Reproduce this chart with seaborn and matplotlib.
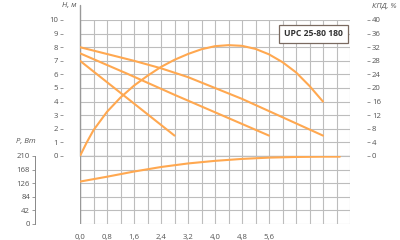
import numpy as np
import pandas as pd
import matplotlib
matplotlib.use("Agg")
import matplotlib.pyplot as plt
import seaborn as sns

# ---- data ----
flow_a = [0.0, 0.8, 1.6, 2.4, 3.2, 4.0, 4.8, 5.6, 6.4, 7.2]
head_a = [8.0, 7.5, 7.0, 6.45, 5.8, 5.0, 4.2, 3.3, 2.4, 1.5]

flow_b = [0.0, 1.4, 2.8, 4.2, 5.6]
head_b = [7.55, 6.05, 4.5, 3.0, 1.5]

flow_c = [0.0, 1.4, 2.8]
head_c = [7.0, 4.25, 1.5]

flow_eff = [0.0, 0.2, 0.4, 0.8, 1.2, 1.6, 2.0, 2.4, 2.8, 3.2, 3.6, 4.0, 4.4,
            4.8, 5.2, 5.6, 6.0, 6.4, 6.8, 7.2]
eff_pct = [0.0, 4.0, 7.6, 13.0, 17.2, 20.7, 23.6, 26.2, 28.3, 30.0, 31.4, 32.3,
           32.6, 32.4, 31.5, 29.9, 27.6, 24.6, 20.6, 16.0]

flow_pow = [0.0, 0.8, 1.6, 2.4, 3.2, 4.0, 4.8, 5.6, 6.4, 7.2, 7.7]
power_w = [131, 146, 162, 176, 187, 195, 201, 205, 207, 208, 208]

x_ticks = [0.0, 0.4, 0.8, 1.2, 1.6, 2.0, 2.4, 2.8, 3.2, 3.6, 4.0, 4.4, 4.8,
           5.2, 5.6, 6.0, 6.4, 6.8, 7.2, 7.6, 8.0]
x_labels = ["0,0", "", "0,8", "", "1,6", "", "2,4", "", "3,2", "", "4,0", "",
            "4,8", "", "5,6", "", "", "", "", "", ""]
h_ticks = [0, 1, 2, 3, 4, 5, 6, 7, 8, 9, 10]
eff_ticks = [0, 4, 8, 12, 16, 20, 24, 28, 32, 36, 40]
p_ticks = [0, 42, 84, 126, 168, 210]
title = "UPC 25-80 180"

# ---- style ----
sns.set_theme(style="white")
plt.rcParams["font.family"] = ["Open Sans", "DejaVu Sans"]

ORANGE = "#FFA850"
GRID = "#bdbdbd"
TXT = "#555555"
FS = 5.6
PT = 72 / 100  # points per pixel

W, H = 400, 240
fig = plt.figure(figsize=(4, 2.4), dpi=100)


def fx(px):
    return px / W


def fy(py):
    return 1 - py / H


ax = fig.add_axes([fx(80), fy(156), fx(350) - fx(80), fy(20) - fy(156)])
axp = fig.add_axes([fx(80), fy(224), fx(350) - fx(80), fy(156) - fy(224)], sharex=ax)
axr = ax.twinx()

for a in (ax, axp, axr):
    a.set_facecolor("none")
    for s in a.spines.values():
        s.set_visible(False)

# grid
for a in (ax, axp):
    a.set_xticks(x_ticks)
    a.grid(True, color=GRID, linewidth=0.8)
    a.set_axisbelow(True)
ax.set_xlim(0, 8.0)
ax.set_ylim(0, 10)
ax.set_yticks(h_ticks)
axp.set_ylim(0, 210)
axp.set_yticks(p_ticks)
axr.set_ylim(0, 40)
axr.set_yticks(eff_ticks)
axr.grid(False)

tick_kw = dict(length=3 * PT, width=0.6, color="#888888", labelsize=FS,
               labelcolor=TXT, pad=2 * PT)

# upper-left ticks: offset, invisible spine
ax.spines["left"].set_position(("outward", 17 * PT))
ax.tick_params(axis="y", left=True, **tick_kw)
ax.tick_params(axis="x", bottom=False, labelbottom=False)

axr.spines["right"].set_position(("outward", 17 * PT))
axr.tick_params(axis="y", right=True, **tick_kw)

axp.spines["left"].set_visible(True)
axp.spines["left"].set_position(("outward", 45 * PT))
axp.spines["left"].set_color("#888888")
axp.spines["left"].set_linewidth(0.7)
axp.tick_params(axis="y", left=True, **tick_kw)
axp.set_xticklabels(x_labels)
axp.tick_params(axis="x", bottom=False, labelsize=FS, labelcolor=TXT, pad=2 * PT)

# main vertical axis line at x = 0
ax.axvline(0, ymin=0, ymax=(156 - 5) / 136, color="#999999", lw=1.0, clip_on=False, zorder=1)
axp.axvline(0, color="#999999", lw=1.0, zorder=1)
ax.axhline(0, color="#999999", lw=0.9, zorder=1)

# curves
lw = 1.5
sns.lineplot(x=flow_a, y=head_a, ax=ax, color=ORANGE, lw=lw, estimator=None)
sns.lineplot(x=flow_b, y=head_b, ax=ax, color=ORANGE, lw=lw, estimator=None)
sns.lineplot(x=flow_c, y=head_c, ax=ax, color=ORANGE, lw=lw, estimator=None)
sns.lineplot(x=flow_eff, y=eff_pct, ax=axr, color=ORANGE, lw=lw, estimator=None)
sns.lineplot(x=flow_pow, y=power_w, ax=axp, color=ORANGE, lw=lw, estimator=None)
for a in (ax, axp, axr):
    a.set_xlabel("")
    a.set_ylabel("")
ax.set_xlim(0, 8.0)

# title box
ax.text((313.5 - 80) / 270, (156 - 34) / 136, title, transform=ax.transAxes,
        ha="center", va="center", fontsize=6.2, fontweight="bold", color="#333333",
        bbox=dict(boxstyle="square,pad=0.55", fc="white", ec="#7a6a60", lw=0.9))

# axis titles
fig.text(fx(69), fy(6), "Н, м", ha="center", va="center", fontsize=FS,
         style="italic", color=TXT)
fig.text(fx(384), fy(6), "КПД, %", ha="center", va="center", fontsize=FS,
         style="italic", color=TXT)
fig.text(fx(26), fy(142), "Р, Вт", ha="center", va="center", fontsize=FS,
         style="italic", color=TXT)

fig.savefig("out.png", dpi=100)
